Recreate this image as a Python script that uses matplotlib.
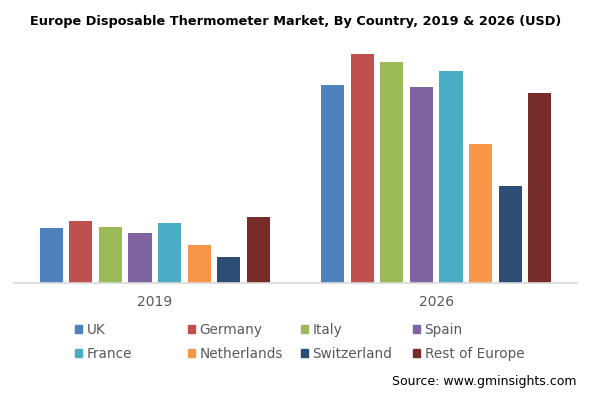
import numpy as np
import matplotlib
matplotlib.use("Agg")
from matplotlib import pyplot as plt
from matplotlib.patches import Patch

# values (relative bar heights)
years = ["2019", "2026"]
countries = ["UK", "Germany", "Italy", "Spain",
             "France", "Netherlands", "Switzerland", "Rest of Europe"]
colors = ["#4F81BD", "#C0504D", "#9BBB59", "#8064A2",
          "#4BACC6", "#F79646", "#2C4D75", "#772C2A"]
vals_2019 = [55, 62, 56, 50, 60, 38, 26, 66]
vals_2026 = [198, 229, 221, 196, 212, 139, 97, 190]

W, H = 592, 399
fig = plt.figure(figsize=(W / 100, H / 100), dpi=100)
ax = fig.add_axes([14 / W, (H - 283) / H, (577 - 14) / W, (283 - 45) / H])

x = np.arange(len(years))
pitch = 0.105
width = 0.082
data = np.array([vals_2019, vals_2026])
for i, c in enumerate(countries):
    off = (i - 3.5) * pitch
    ax.bar(x + off, data[:, i], width, color=colors[i], label=c)

ax.set_xlim(-0.5, 1.5)
ax.set_ylim(0, 238)
ax.set_xticks(x)
ax.set_xticklabels(years, fontsize=10, color="#595959")
ax.tick_params(axis="x", length=0, pad=9)
ax.set_yticks([])
for s in ["top", "right", "left"]:
    ax.spines[s].set_visible(False)
ax.spines["bottom"].set_color("#D9D9D9")
ax.spines["bottom"].set_linewidth(1.2)

fig.text(0.5, 1 - 22 / H, "Europe Disposable Thermometer Market, By Country, 2019 & 2026 (USD)",
         ha="center", va="center", fontsize=9.3, fontweight="bold", color="#000000")

# legend in 4 columns of equal pitch
handles = [Patch(color=colors[i], label=countries[i]) for i in range(len(countries))]
col_x = [75, 188, 301, 413]
for c in range(4):
    fig.legend(handles=[handles[c], handles[c + 4]], loc="upper left",
               bbox_to_anchor=(col_x[c] / W, 1 - 323 / H), frameon=False,
               fontsize=9.8, labelcolor="#595959", handlelength=0.55,
               handleheight=0.55, handletextpad=0.3, labelspacing=0.72,
               borderpad=0, borderaxespad=0)

fig.text(576 / W, 1 - 382 / H, "Source: www.gminsights.com", ha="right", va="center",
         fontsize=9, color="#000000")

fig.savefig("out.png", dpi=100)
